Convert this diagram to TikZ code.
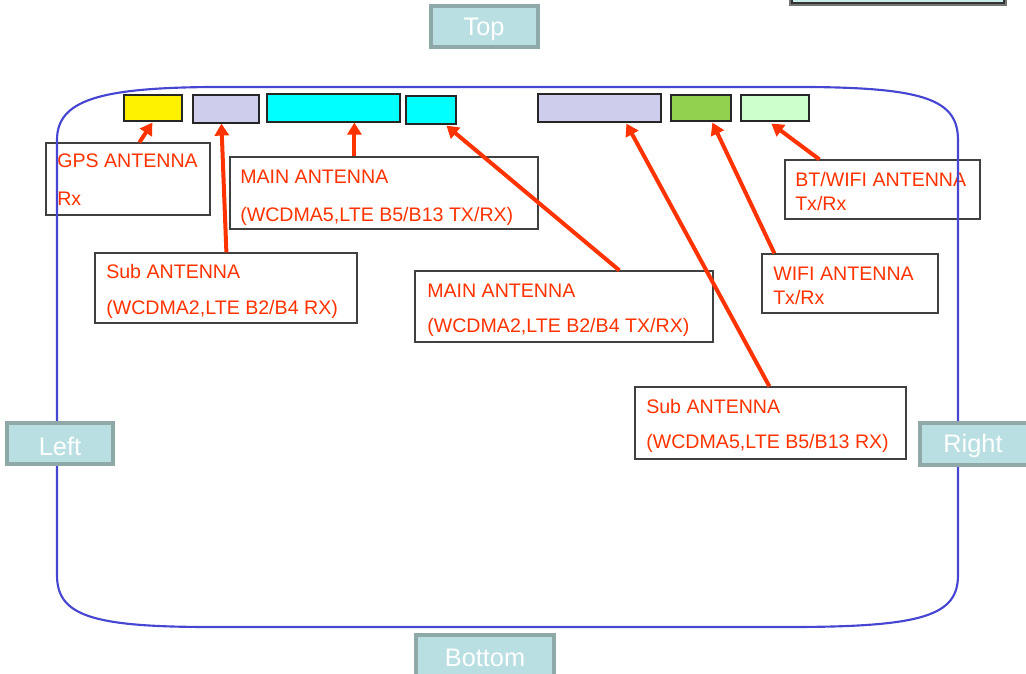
\documentclass[tikz,border=0pt]{standalone}
\usepackage{fontspec}
\setmainfont{Liberation Sans}
\usetikzlibrary{arrows.meta,calc,fit}
\definecolor{lblred}{RGB}{255,51,0}
\definecolor{sidefill}{RGB}{185,223,226}
\definecolor{sidedraw}{RGB}{143,168,168}
\definecolor{outline}{RGB}{70,70,210}
\definecolor{lav}{RGB}{206,206,236}
\definecolor{grn}{RGB}{146,208,80}
\definecolor{lgrn}{RGB}{204,255,204}
\definecolor{cyn}{RGB}{0,255,255}
\definecolor{boxgray}{RGB}{64,64,64}
\definecolor{trfill}{RGB}{200,236,236}
\tikzset{
  lblbox/.style={draw=boxgray, line width=0.9pt, fill=white, inner sep=0pt},
  lbltext/.style={anchor=base west, inner sep=0pt, text=lblred, font=\fontsize{14.7}{17}\selectfont},
  antbox/.style={draw=black!85, line width=0.9pt, inner sep=0pt},
  sidebox/.style={draw=sidedraw, fill=sidefill, line width=2.4pt, inner sep=0pt},
  sidetext/.style={text=white, font=\fontsize{19}{22}\selectfont, inner sep=0pt},
  arr/.style={draw=lblred, line width=3pt, -{Triangle[length=9pt,width=10.5pt]}},
}
\begin{document}
\begin{tikzpicture}[x=0.75pt,y=-0.75pt]
\useasboundingbox (0,0) rectangle (1026,674);
% top-right partial box
\path[fill=black!55] (789,-20) rectangle (1007,6);
\path[fill=trfill, draw=black!80, line width=1pt] (792,-20) rectangle (1004,3);

% label boxes
\node[lblbox, fit={(46,143) (210,215)}] (gpsl) {};
\node[lblbox, fit={(230,157) (538,229)}] (main5l) {};
\node[lblbox, fit={(95,253) (357,323)}] (sub2l) {};
\node[lblbox, fit={(415,271) (713,342)}] (main2l) {};
\node[lblbox, fit={(785,160) (980,219)}] (btl) {};
\node[lblbox, fit={(762,254) (938,313)}] (wifil) {};
\node[lblbox, fit={(635,387) (906,459)}] (sub5l) {};

% label texts
\node[lbltext] (t1a) at (57,168) {GPS ANTENNA};
\node[lbltext] (t1b) at (57,205) {Rx};
\node[lbltext] (t2a) at (240,184) {MAIN ANTENNA};
\node[lbltext] (t2b) at (240,221) {(WCDMA5,LTE B5/B13 TX/RX)};
\node[lbltext] (t3a) at (106,278) {Sub ANTENNA};
\node[lbltext] (t3b) at (106,314) {(WCDMA2,LTE B2/B4 RX)};
\node[lbltext] (t4a) at (427,297) {MAIN ANTENNA};
\node[lbltext] (t4b) at (427,332) {(WCDMA2,LTE B2/B4 TX/RX)};
\node[lbltext] (t5a) at (795,186) {BT/WIFI ANTENNA};
\node[lbltext] (t5b) at (795,210) {Tx/Rx};
\node[lbltext] (t6a) at (773,280) {WIFI ANTENNA};
\node[lbltext] (t6b) at (773,304) {Tx/Rx};
\node[lbltext] (t7a) at (646,413) {Sub ANTENNA};
\node[lbltext] (t7b) at (646,448) {(WCDMA5,LTE B5/B13 RX)};

% phone outline
\draw[outline, line width=1.6pt] (57,140) .. controls (57,100) and (100,88) .. (210,87) -- (810,87)
  .. controls (925,88) and (958,100) .. (958,140) -- (958,575)
  .. controls (958,615) and (925,627) .. (790,627) -- (210,627)
  .. controls (90,627) and (57,615) .. (57,575) -- cycle;

% antenna boxes
\node[antbox, fill=yellow, fit={(124,95) (182,121)}] (ygps) {};
\node[antbox, fill=lav, fit={(193,95) (259,123)}] (sub2) {};
\node[antbox, fill=cyn, fit={(267,94) (400,122)}] (main5) {};
\node[antbox, fill=cyn, fit={(406,96) (456,124)}] (main2) {};
\node[antbox, fill=lav, fit={(538,94) (661,122)}] (sub5) {};
\node[antbox, fill=grn, fit={(671,95) (731,121)}] (wifi) {};
\node[antbox, fill=lgrn, fit={(741,95) (809,121)}] (bt) {};

% arrows
\draw[arr] ($(gpsl.north west)+(94,0)$) -- ($(ygps.south west)+(29,1)$);
\draw[arr] ($(sub2l.north west)+(132,0)$) -- ($(sub2.south west)+(29,0)$);
\draw[arr] ($(main5l.north west)+(125,0)$) -- ($(main5.south west)+(88,0)$);
\draw[arr] ($(main2l.north west)+(205,0)$) -- ($(main2.south west)+(41,1)$);
\draw[arr] ($(sub5l.north west)+(135,0)$) -- ($(sub5.south west)+(89,1)$);
\draw[arr] ($(wifil.north west)+(13,0)$) -- ($(wifi.south west)+(42,1)$);
\draw[arr] ($(btl.north west)+(35,0)$) -- ($(bt.south west)+(31,2)$);

% side boxes
\node[sidebox, fit={(431,6) (538,47)}] (top) {};
\node[sidetext] (toptxt) at (484,29) {Top};
\node[sidebox, fit={(7,423) (113,464)}] (left) {};
\node[sidetext] (lefttxt) at (60,446) {Left};
\node[sidebox, fit={(920,423) (1030,465)}] (right) {};
\node[sidetext] (righttxt) at (973,446) {Right};
\node[sidebox, fit={(416,635) (554,690)}] (bottom) {};
\node[sidetext] (bottomtxt) at (485,658) {Bottom};
\end{tikzpicture}
\end{document}
